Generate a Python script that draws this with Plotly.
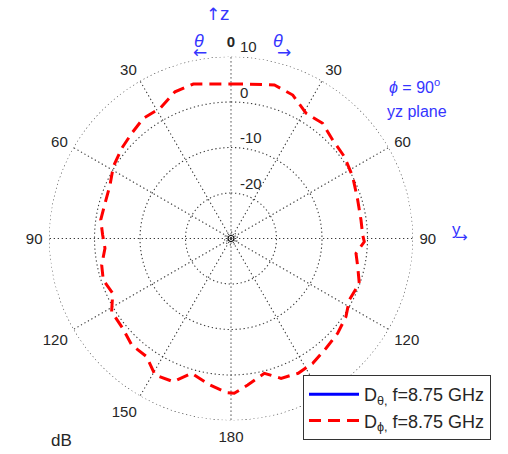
import numpy as np
import plotly.graph_objects as go

# D_phi pattern, phi = 90 deg (yz plane), angle clockwise from +z (deg), value in dB
theta_deg = [0, 5.5, 15.8, 23.3, 30.9, 38.5, 45.9, 54.2, 63.1, 73.1, 81.9, 88.5, 91.4,
             96.8, 102.5, 109.3, 117.5, 124.2, 131.6, 139.1, 146.8, 153.5, 160.3, 166.1,
             173.5, 178.8, 181.6, 188.2, 196.3, 202.0, 209.1, 215.5, 223.0, 230.3, 238.5,
             245.1, 252.0, 258.4, 265.6, 271.6, 278.1, 285.6, 293.9, 301.4, 309.5, 316.7,
             323.9, 331.4, 339.1, 346.3, 360]
d_phi_db = [3.96, 4.11, 5.05, 4.33, 2.09, 2.35, 1.12, 0.73, 0.0, -0.90, -1.14, -1.05, -0.70,
            -2.33, -1.47, -0.13, -0.70, 0.55, 1.36, 1.91, 2.79, 3.1, 2.64, 0.53,
            2.42, 4.02, 3.89, 2.53, 0.86, 3.93, 4.33, 1.91, 2.0, 0.92, 0.77,
            -1.34, -0.48, -0.99, -2.22, -1.78, -1.08, -1.25, -0.92, 0.31, 1.14, 1.80,
            2.70, 2.59, 4.51, 4.95, 3.96]

r_min, r_max = -30, 10
ring_vals = [-20, -10, 0, 10]
ring_labels = ["-20", "-10", "0", "10"]
spoke_angles = list(range(0, 360, 30))
angle_labels = ["<b>0</b>", "30", "60", "90", "120", "150", "180", "150", "120", "90", "60", "30"]

grid_col = "#3a3a3a"
grid_dash = "1.3px,2.7px"
blue = "#3535ff"

fig = go.Figure()

circ = np.linspace(0, 360, 361)
for rv in ring_vals + [-28.6]:
    fig.add_trace(go.Scatterpolar(r=[rv] * len(circ), theta=circ, mode="lines",
                                  line=dict(color=grid_col, width=1.1, dash=grid_dash),
                                  showlegend=False, hoverinfo="skip"))
for a in spoke_angles:
    fig.add_trace(go.Scatterpolar(r=[r_min, r_max], theta=[a, a], mode="lines",
                                  line=dict(color=grid_col, width=1.1, dash=grid_dash),
                                  showlegend=False, hoverinfo="skip"))

fig.add_trace(go.Scatterpolar(r=[r_min], theta=[0], mode="markers",
                              marker=dict(symbol="circle-open", size=6, color="black",
                                          line=dict(width=1.2, color="black")),
                              showlegend=False, hoverinfo="skip"))

# D_theta is below the plotted range in this plane: legend entry only
fig.add_trace(go.Scatter(x=[None], y=[None], mode="lines",
                         line=dict(color="#0000ff", width=3),
                         name="D<sub>θ,</sub> f=8.75 GHz"))
fig.add_trace(go.Scatterpolar(r=d_phi_db, theta=theta_deg, mode="lines",
                              line=dict(color="#ff0000", width=3, dash="12px,7px"),
                              name="D<sub>ϕ,</sub> f=8.75 GHz"))

W, H = 508, 454
cx, cy, R = 231, 238.5, 182
fig.update_layout(
    width=W, height=H,
    margin=dict(l=0, r=0, t=0, b=0),
    paper_bgcolor="white",
    plot_bgcolor="white",
    font=dict(family="Liberation Sans", size=15, color="#262626"),
    xaxis=dict(visible=False), yaxis=dict(visible=False),
    polar=dict(
        domain=dict(x=[(cx - R) / W, (cx + R) / W], y=[1 - (cy + R) / H, 1 - (cy - R) / H]),
        bgcolor="white",
        radialaxis=dict(range=[r_min, r_max], showticklabels=False, showgrid=False,
                        showline=False, ticks=""),
        angularaxis=dict(rotation=90, direction="clockwise", tickmode="array",
                         tickvals=spoke_angles, ticktext=angle_labels, showgrid=False,
                         showline=False, ticks="outside", ticklen=3, tickcolor="white",
                         tickfont=dict(size=15, color="#262626")),
    ),
    legend=dict(x=303 / W, y=1 - 375 / H, xanchor="left", yanchor="top",
                bgcolor="white", bordercolor="#333333", borderwidth=1,
                itemwidth=50,
                font=dict(size=18, color="#262626")),
)

def ann(text, x, y, size=14, color=blue, xanchor="center", family=None):
    f = dict(size=size, color=color)
    if family:
        f["family"] = family
    fig.add_annotation(text=text, x=x / W, y=1 - y / H, xref="paper", yref="paper",
                       showarrow=False, xanchor=xanchor, yanchor="middle", font=f)

# radial tick labels, placed just above each ring on the vertical axis
for v, t in zip(ring_vals, ring_labels):
    ry = cy - (v - r_min) / (r_max - r_min) * R
    ann(t, 238, ry - 10, 15, "#262626", xanchor="left")

ann("↑", 213, 14, 17, family="DejaVu Sans")
ann("z", 225, 13, 19)
ann("<i>θ</i>", 199, 41, 18)
ann("←", 200, 52, 17, family="DejaVu Sans")
ann("<i>θ</i>", 278, 41, 18)
ann("→", 284, 52, 17, family="DejaVu Sans")
ann("<i>ϕ</i> = 90<sup>o</sup>", 414, 86, 16)
ann("yz plane", 417, 111, 16)
ann("y", 456, 229, 17)
ann("→", 461, 237, 15, family="DejaVu Sans")
ann("dB", 61, 440, 17, "#262626")

fig.write_html("out.html")
